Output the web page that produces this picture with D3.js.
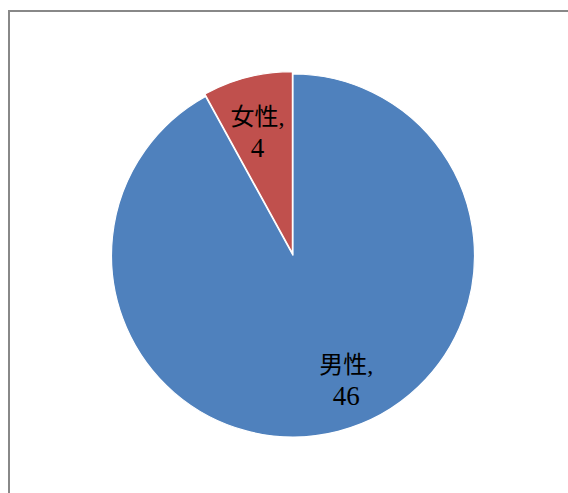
<!DOCTYPE html>
<html>
<head>
<meta charset="utf-8">
<script src="https://cdn.jsdelivr.net/npm/d3@7"></script>
<style>
  html, body { margin: 0; padding: 0; background: #fff; }
  svg { display: block; }
</style>
</head>
<body>
<svg id="chart" width="568" height="493"></svg>
<script>
// Gender breakdown
const categories = ["男性", "女性"];
const values = [46, 4];
const colors = ["#4F81BD", "#C0504D"];

const svg = d3.select("#chart");
const W = 568, H = 493;

// chart area frame (open to the right and bottom)
svg.append("rect")
  .attr("x", 9).attr("y", 11)
  .attr("width", W).attr("height", H)
  .attr("fill", "#fff")
  .attr("stroke", "#888").attr("stroke-width", 2);

const cx = 293, cy = 255.5, r = 181.5;

const pie = d3.pie().sort(null).value(d => d.value);
const arcs = pie(categories.map((c, i) => ({ name: c, value: values[i], color: colors[i] })));

const arc = d3.arc().innerRadius(0).outerRadius(r);

const g = svg.append("g").attr("transform", `translate(${cx},${cy})`);

// the small slice is pulled out a touch
const explode = d => d.data.name === "女性" ? 2.5 : 0;
const offset = d => {
  const a = (d.startAngle + d.endAngle) / 2;
  const e = explode(d);
  return [Math.sin(a) * e, -Math.cos(a) * e];
};

g.selectAll("path.slice")
  .data(arcs)
  .join("path")
  .attr("class", "slice")
  .attr("d", arc)
  .attr("transform", d => `translate(${offset(d)})`)
  .attr("fill", d => d.data.color)
  .attr("stroke", "#fff")
  .attr("stroke-width", 1.2);

// label anchor: polar position (angle in degrees clockwise from top, radius fraction)
const labelPolar = {
  "男性": [157, 0.75],
  "女性": [-16.2, 0.70]
};
const labels = g.selectAll("text.label")
  .data(arcs)
  .join("text")
  .attr("class", "label")
  .attr("text-anchor", "middle")
  .attr("font-family", "'Liberation Serif', 'DejaVu Serif', 'Noto Sans CJK JP', serif")
  .attr("font-size", 24)
  .attr("fill", "#000")
  .attr("transform", d => {
    const [deg, k] = labelPolar[d.data.name];
    const a = deg * Math.PI / 180;
    return `translate(${Math.sin(a) * r * k},${-Math.cos(a) * r * k})`;
  });

labels.append("tspan")
  .attr("x", 0).attr("y", -8)
  .text(d => d.data.name + ",");
labels.append("tspan")
  .attr("x", 0).attr("y", 24)
  .attr("font-size", 27)
  .text(d => d.data.value);
</script>
</body>
</html>
